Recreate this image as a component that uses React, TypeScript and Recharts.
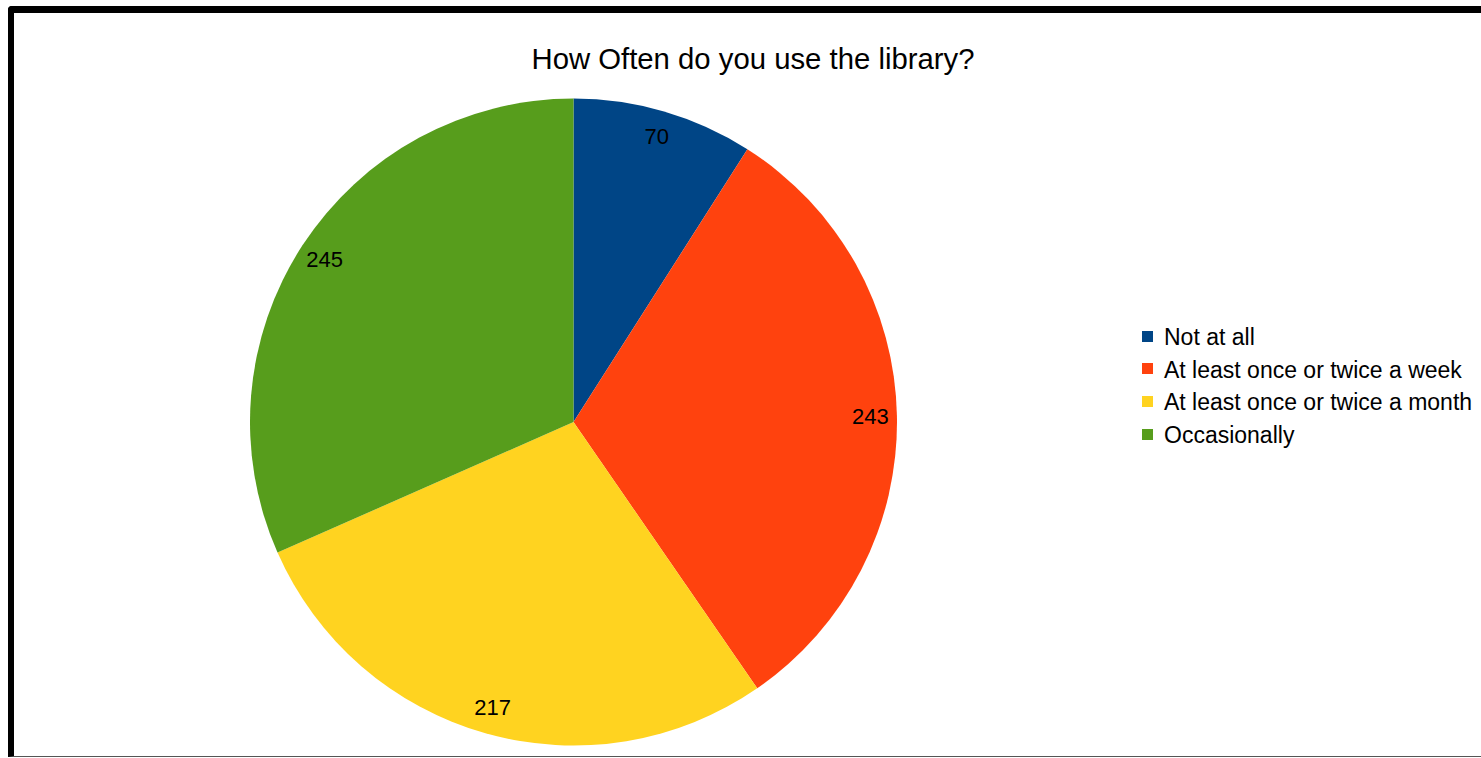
import React from 'react';
import { PieChart, Pie, Cell, Legend } from 'recharts';

const categories = ['Not at all', 'At least once or twice a week', 'At least once or twice a month', 'Occasionally'];
const values = [70, 243, 217, 245];
const colors = ['#004586', '#ff420e', '#ffd320', '#579d1c'];
const title = 'How Often do you use the library?';

const data = categories.map((name, i) => ({ name, value: values[i] }));
const FONT = '"Liberation Sans", Arial, sans-serif';
const RAD = Math.PI / 180;

const renderLabel = (props: any) => {
  const { cx, cy, midAngle, value } = props;
  const r = 297;
  const x = cx + r * Math.cos(-midAngle * RAD);
  const y = cy + r * Math.sin(-midAngle * RAD);
  return (
    <text x={x} y={y} textAnchor="middle" dominantBaseline="central" fill="#000" fontSize={22} fontFamily={FONT}>
      {value}
    </text>
  );
};

const renderLegend = () => (
  <div style={{ fontFamily: FONT, fontSize: 23, color: '#000' }}>
    {categories.map((name, i) => (
      <div key={name} style={{ display: 'flex', alignItems: 'center', height: 32.67, lineHeight: '32.67px', whiteSpace: 'nowrap' }}>
        <span style={{ display: 'inline-block', width: 11, height: 11, background: colors[i], marginRight: 11, marginTop: -2 }} />
        <span>{name}</span>
      </div>
    ))}
  </div>
);

export default function App() {
  return (
    <div style={{ position: 'absolute', left: 0, top: 0, width: 1481, height: 758, overflow: 'hidden', background: '#fff' }}>
      <div style={{ position: 'absolute', left: 8, top: 6, width: 1600, height: 743, borderLeft: '6px solid #000', borderTop: '7px solid #000', borderBottom: '1px solid #555', borderTopLeftRadius: 4 }} />
      <svg width={1481} height={758} style={{ position: 'absolute', left: 0, top: 0 }}>
        <text x={753} y={68.5} textAnchor="middle" fontSize={29.3} fontFamily={FONT} fill="#000">{title}</text>
      </svg>
      <div style={{ position: 'absolute', left: 0, top: 0 }}>
        <PieChart width={1481} height={758} margin={{ top: 0, right: 0, bottom: 0, left: 0 }}>
          <Pie
            data={data}
            dataKey="value"
            nameKey="name"
            cx={573.5}
            cy={422}
            outerRadius={323.5}
            startAngle={90}
            endAngle={-270}
            stroke="none"
            label={renderLabel}
            labelLine={false}
            isAnimationActive={false}
          >
            {data.map((d, i) => (
              <Cell key={d.name} fill={colors[i]} />
            ))}
          </Pie>
          <Legend
            content={renderLegend}
            layout="vertical"
            wrapperStyle={{ position: 'absolute', left: 1142, top: 321, width: 340 }}
          />
        </PieChart>
      </div>
    </div>
  );
}
